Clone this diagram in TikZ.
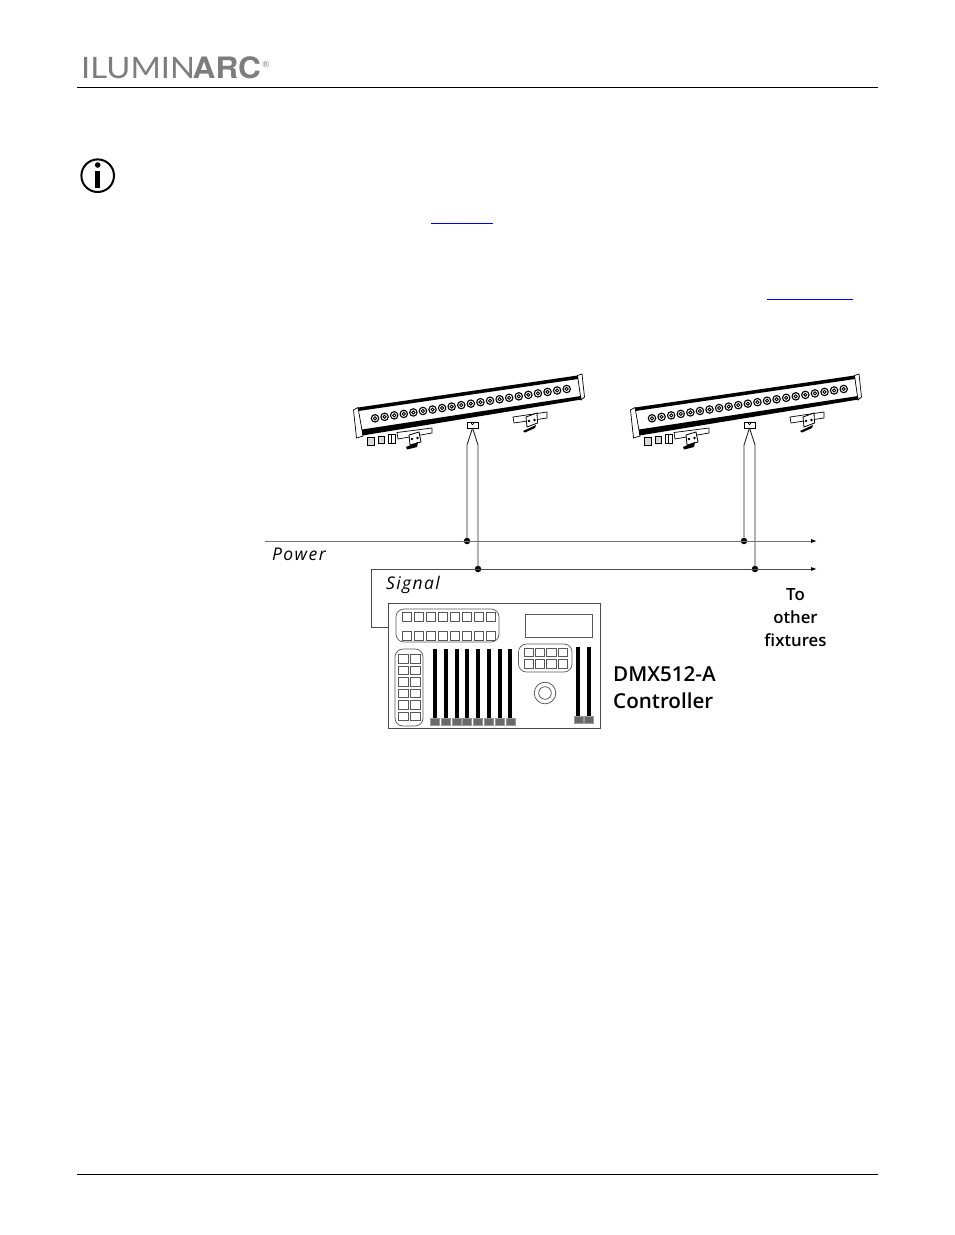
\documentclass[tikz,border=0pt]{standalone}
\usepackage{fontspec}
\usetikzlibrary{arrows.meta}
\setmainfont{Open Sans}
\newfontfamily\logothin{Lato}
\newfontfamily\logobold{TeX Gyre Heros}
\newfontfamily\labelfont{Open Sans Semibold}
\definecolor{logogray}{RGB}{125,125,125}
\definecolor{capgray}{RGB}{105,105,105}
\definecolor{linkblue}{RGB}{0,0,225}
\tikzset{
	junction/.style = {circle, fill = black, inner sep = 0pt, minimum size = 6.5pt},
	bus/.style = {line width = 0.9pt, draw = black!55},
	feed/.style = {line width = 0.9pt, draw = black!85},
	busarrow/.style = {-{Latex[length = 6pt, width = 4pt, black]}},
	key/.style = {draw = black!65, line width = 0.6pt},
	panel/.style = {draw = black!65, line width = 0.7pt, rounded corners = 8pt},
	body/.style = {line width = 0.7pt, fill = white},
	slidercap/.style = {draw = black!40, fill = capgray, line width = 0.4pt},
	sidelabel/.style = {font = \labelfont\fontsize{20.6}{24}\selectfont, anchor = base west, inner sep = 0pt},
	buslabel/.style = {font = \itshape\fontsize{17.5}{20}\selectfont\addfontfeature{LetterSpace = 8}, anchor = base west, inner sep = 0pt},
	logotext/.style = {anchor = base west, inner sep = 0pt, text = logogray}
}
\begin{document}
\begin{tikzpicture}[x = 1pt, y = -1pt]
	\path[use as bounding box, fill = white] (0,0) rectangle (954,1235);
	% page furniture
	\node[logotext, xscale = 1.11, font = \logothin\fontsize{29.5}{30}\selectfont] (logothin) at (81,78) {ILUMIN};
	\node[logotext, xscale = 1.07, font = \logobold\bfseries\fontsize{29.5}{30}\selectfont] (logobold) at (192.5,78) {ARC};
	\node[logotext, font = \logobold\fontsize{9}{9}\selectfont] (logoreg) at (262.5,67) {®};
	\draw[line width = 1pt] (77,87) -- (878,87);
	\draw[line width = 1pt] (77,1174) -- (878,1174);
	\draw[line width = 2pt] (97.7,175.7) circle (16.3);
	\fill (97.7,165) circle (2.8);
	\fill (95.3,170.5) rectangle (100.1,188);
	\draw[linkblue, line width = 1pt] (431,223.5) -- (493,223.5);
	\draw[linkblue, line width = 1pt] (767,299.3) -- (853,299.3);
	% fixtures
	\foreach \dx/\name/\pwr/\sig in {0/a/467/478, 277/b/744/755}{
		\begin{scope}[xshift = \dx pt]
			\draw[body] (353.5,410) -- (358,407.5) -- (363,436) -- (356.5,438) -- cycle;
			\draw[body] (577.5,375.5) -- (582,374) -- (584.5,397) -- (581,400) -- cycle;
			\fill (358,407.5) -- (577.5,375.5) -- (578,379) -- (358.5,411) -- cycle;
			\fill (362,429.5) -- (581,396) -- (581.5,399.5) -- (362.5,435.5) -- cycle;
			\foreach \i in {0,...,20}{
				\draw[line width = 1.1pt] (375+\i*9.585,418.3-\i*1.465) circle (3.7);
				\draw[line width = 0.9pt] (375+\i*9.585,418.3-\i*1.465) circle (1.6);
			}
			% plugs below the housing
			\draw[body, fill = black!15] (367.5,437.5) rectangle (374,445);
			\draw[body, fill = black!15] (378,436) rectangle (384.5,443.5);
			\draw[body] (388,434.5) rectangle (395,443);
			\draw[line width = 0.7pt] (391.5,434.5) -- (391.5,443);
			% brackets
			\draw[body] (397,432.5) -- (432,428) -- (432,433) -- (398,439) -- cycle;
			\draw[line width = 0.8pt, fill = white] (409,435) -- (419,432) -- (421,442) -- (410,445) -- cycle;
			\fill (406,447) -- (418,442) -- (417,447) -- (407,449.5) -- cycle;
			\fill (412,439) circle (1.4) (417.5,438) circle (1.4);
			\draw[body] (513,417) -- (547,412) -- (547,418) -- (514,423) -- cycle;
			\draw[line width = 0.8pt, fill = white] (526,417) -- (537,413) -- (537.5,423) -- (527,427) -- cycle;
			\fill (523,431) -- (536,425) -- (535,428) -- (525,432.5) -- cycle;
			\fill (529,421) circle (1.4) (534.5,420) circle (1.4);
			% mounting tab
			\draw[body] (467,422.5) rectangle (478,428);
			\draw[line width = 0.6pt] (472.5,423.5) circle (1.3);
			\coordinate (tab\name) at (472.5,428);
			\coordinate (kneep\name) at (467,445);
			\coordinate (knees\name) at (478,445);
		\end{scope}
		\node[junction] (pwr\name) at (\pwr,541) {};
		\node[junction] (sig\name) at (\sig,569) {};
		\draw[feed] (tab\name) -- (kneep\name) -- (pwr\name.center);
		\draw[feed] (tab\name) -- (knees\name) -- (sig\name.center);
	}
	% power and signal runs
	\coordinate (pwrstart) at (265,541);
	\coordinate (pwrend) at (817,541);
	\coordinate (sigend) at (817,569);
	\coordinate (sigcorner) at (371,569);
	\coordinate (sigdown) at (371,627.5);
	\draw[bus, busarrow] (pwrstart) -- (pwrend);
	\draw[feed, black!70, busarrow] (sigcorner) -- (sigend);
	\node[buslabel] (power) at (272,560) {Power};
	\node[buslabel] (signal) at (386,589) {Signal};
	\node[align = center, inner sep = 0pt, font = \labelfont\fontsize{16.8}{23}\selectfont] (others) at (795.5,617.5) {To\\other\\ﬁxtures};
	\node[sidelabel] (dmx) at (613,681) {DMX512-A};
	\node[sidelabel] (ctrl) at (613,708) {Controller};
	% controller
	\node[draw = black!70, line width = 0.9pt, minimum width = 212.5pt, minimum height = 124.5pt, inner sep = 0pt] (console) at (494.5,666) {};
	\draw[feed, black!70] (sigcorner) -- (sigdown) -- (console.west |- sigdown);
	\draw[panel] (396,609) rectangle (499,642);
	\foreach \i in {0,...,7}{
		\draw[key] (402+\i*12,612) rectangle +(9.5,9);
		\draw[key] (402+\i*12,631) rectangle +(9.5,9);
	}
	\draw[key, line width = 0.7pt] (525,614) rectangle (592,637.5);
	\draw[panel] (395,649) rectangle (423,726);
	\foreach \j in {0,...,5}{
		\draw[key] (398.5,654.5+\j*11.5) rectangle +(9.5,8.5);
		\draw[key] (410.5,654.5+\j*11.5) rectangle +(9.5,8.5);
	}
	\draw[panel] (518.5,644) rectangle (572,672);
	\foreach \i in {0,...,3}{
		\draw[key] (524+\i*11.3,648) rectangle +(9.3,8.5);
		\draw[key] (524+\i*11.3,659.5) rectangle +(9.3,8.5);
	}
	\foreach \f in {434.7,445.7,457,467,477.7,489,499.7,510.3}{
		\fill (\f-2.1,649) rectangle (\f+2.1,718);
		\draw[slidercap] (\f-4.4,718) rectangle (\f+4.4,725);
	}
	\foreach \f in {578.3,589}{
		\fill (\f-2.1,647) rectangle (\f+2.1,716);
		\draw[slidercap] (\f-4.4,716) rectangle (\f+4.4,723);
	}
	\draw[black!70, line width = 0.7pt] (545,693) circle (10.8);
	\draw[black!70, line width = 0.7pt] (545,693) circle (6.3);
\end{tikzpicture}
\end{document}
